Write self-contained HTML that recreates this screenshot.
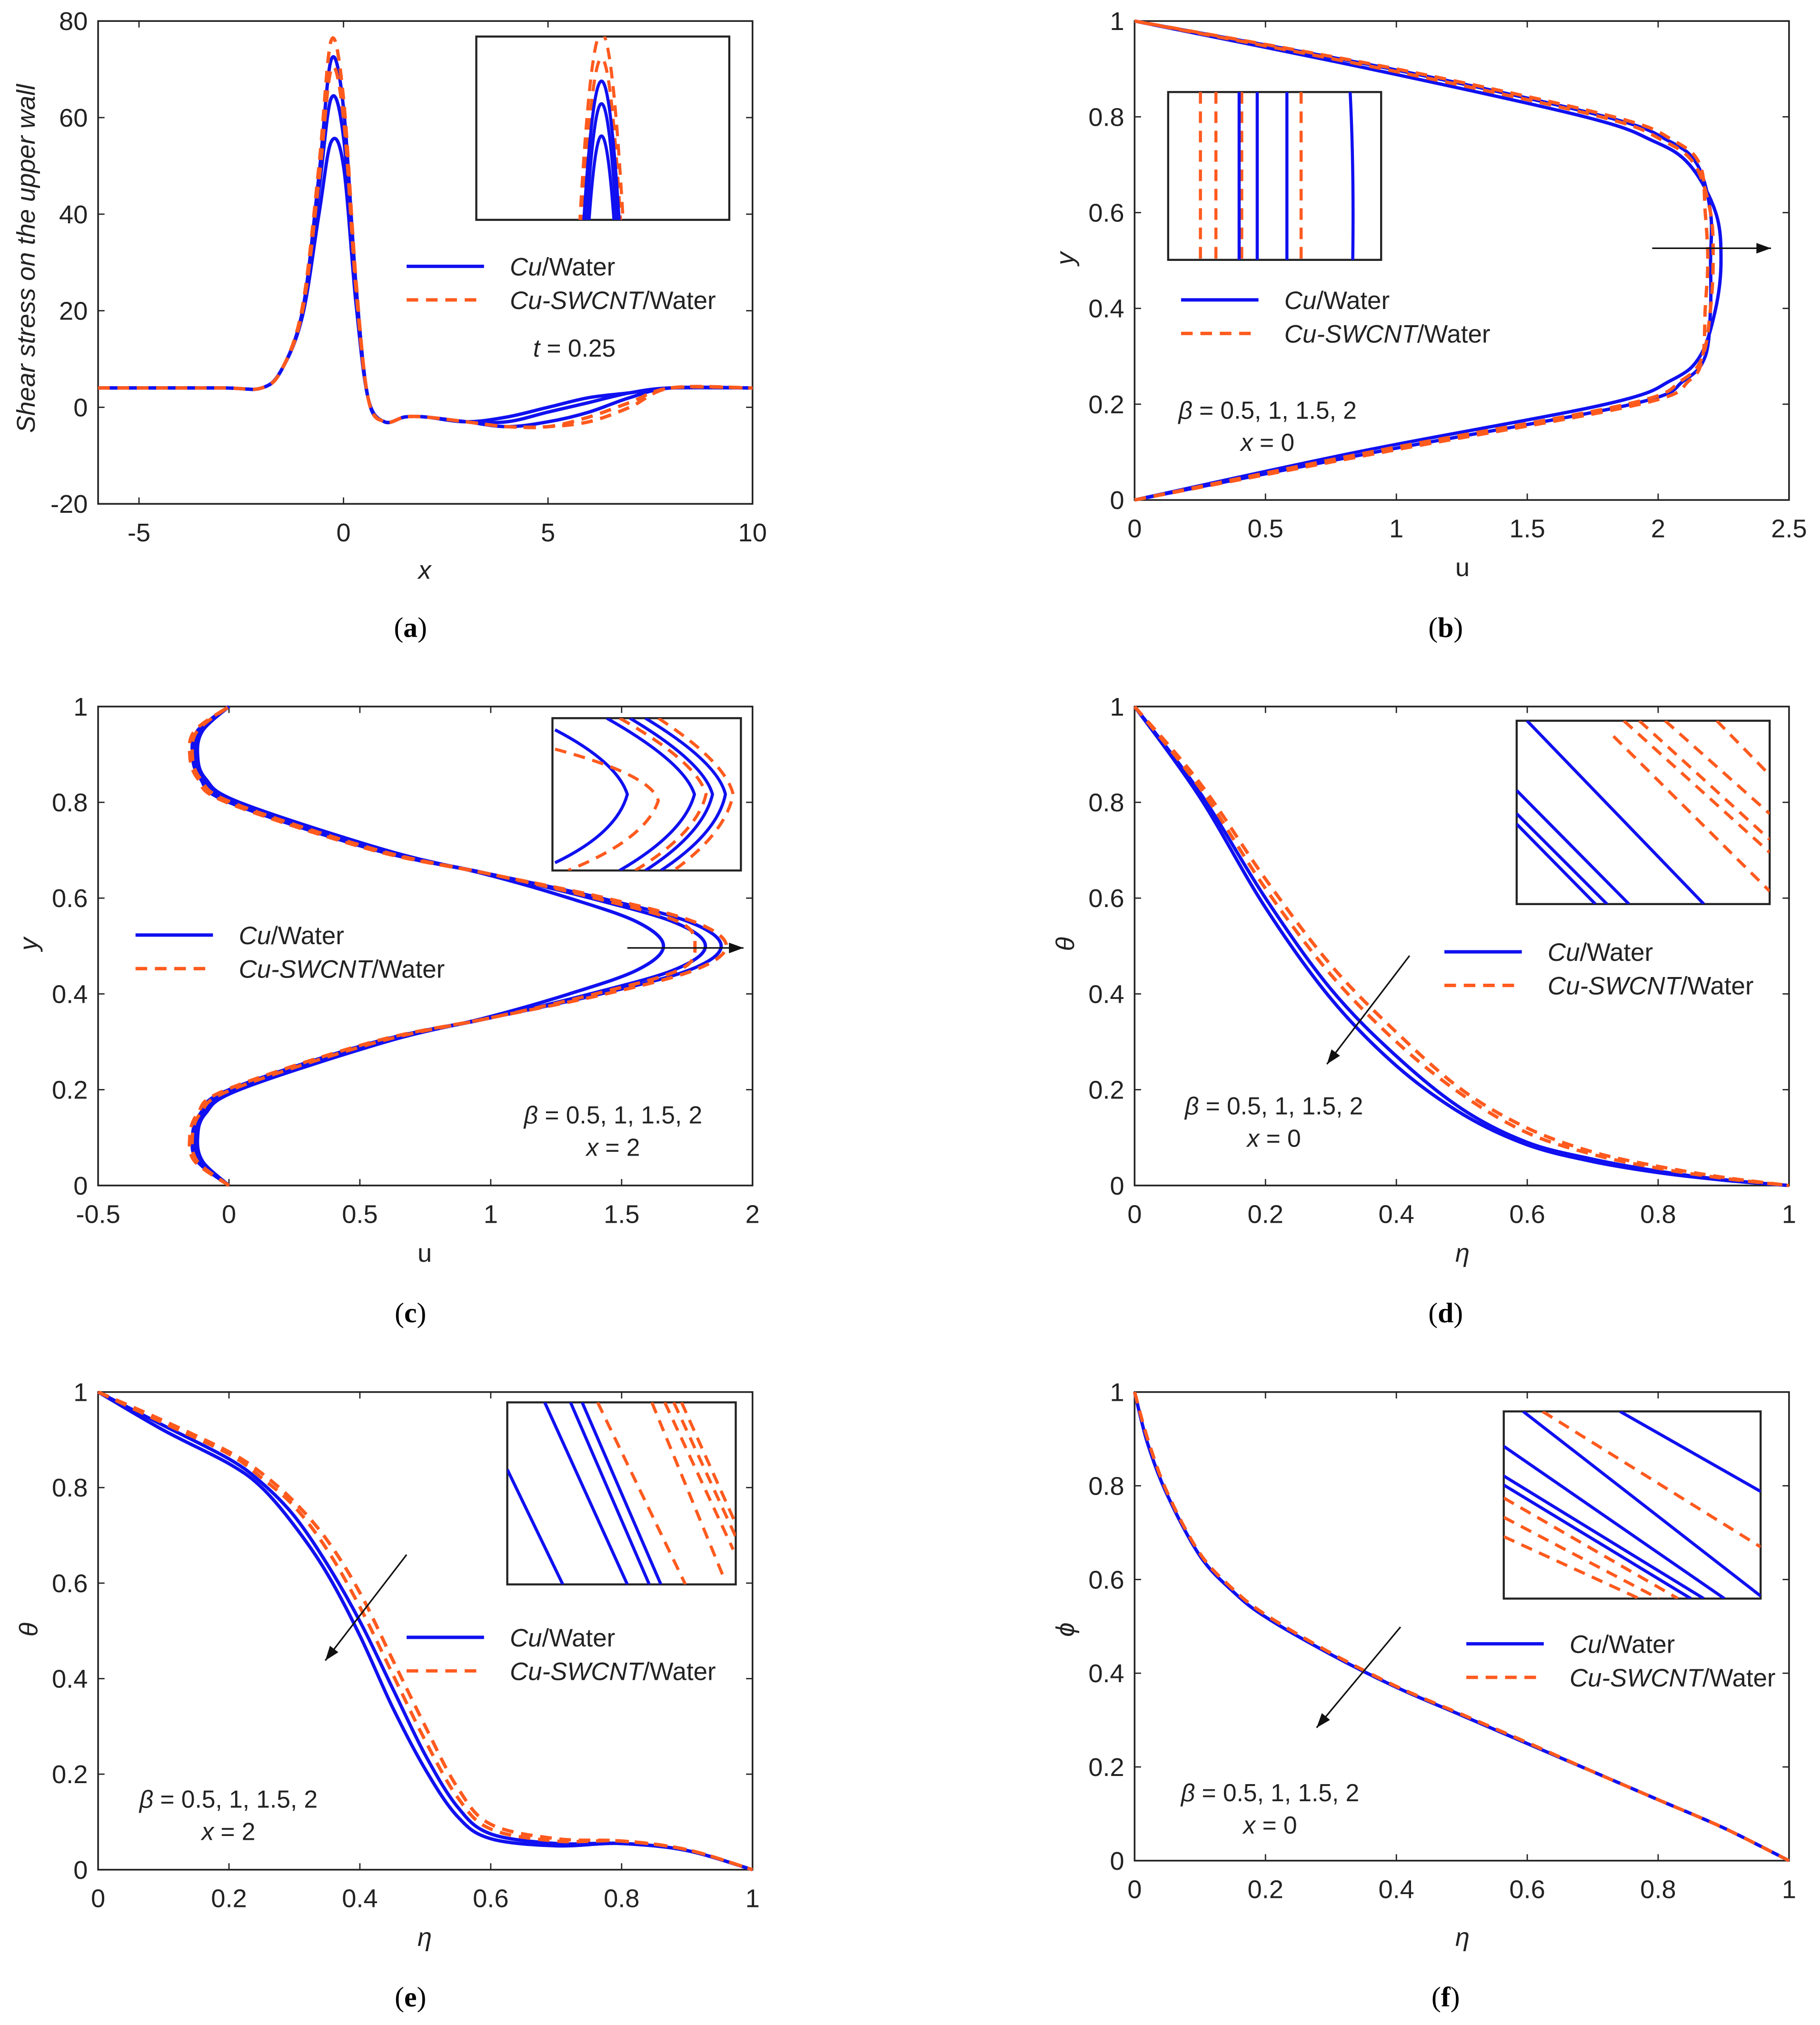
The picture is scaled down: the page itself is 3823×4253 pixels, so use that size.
<!DOCTYPE html>
<html><head><meta charset="utf-8">
<style>
html,body{margin:0;padding:0;background:#fff;}
svg{display:block;}
text{font-family:"Liberation Sans",sans-serif;fill:#222;}
.cap{font-family:"Liberation Serif",serif;font-size:22px;fill:#000;}
</style></head>
<body>
<svg id="fig" width="3823" height="4253" viewBox="0 0 1410 1568" xmlns="http://www.w3.org/2000/svg"></svg>
<script>
// ---- Panel (a): shear stress vs x ----
const aX = [-6,-3,-2,-1.5,-1,-0.6,-0.3,0,0.3,0.6,1,1.5,2,3,4,5,6,7,8,10];
const aBlue1 = [4,4,4,8,20,48,72,62,26,2,-3,-2,-2,-3,-2,0,2,3,4,4];
const aBlue2 = [4,4,4,8,20,45,64,56,24,2,-3,-2,-2,-3,-3,-1,1,3,4,4];
const aBlue3 = [4,4,4,8,19,40,55,50,22,2,-3,-2,-2,-3,-4,-3,-1,2,4,4];
const aOr1 = [4,4,4,8,21,50,76,64,27,2,-3,-2,-2,-3,-4,-4,-2,1,4,4];
const aOr2 = [4,4,4,8,20,47,70,60,25,2,-3,-2,-2,-3,-4,-4,-3,0,4,4];
// ---- Panel (b): u vs y ----
const bY = [0,0.1,0.2,0.25,0.3,0.4,0.5,0.6,0.7,0.75,0.8,0.9,1];
const bBlue1 = [0,0.85,1.8,2.05,2.16,2.22,2.24,2.22,2.12,1.98,1.72,0.9,0];
const bBlue2 = [0,0.92,1.9,2.1,2.18,2.2,2.2,2.2,2.15,2.04,1.8,0.98,0];
const bOr1 = [0,0.95,1.93,2.12,2.17,2.18,2.19,2.18,2.16,2.06,1.83,1.0,0];
const bOr2 = [0,0.9,1.88,2.09,2.17,2.2,2.21,2.2,2.14,2.02,1.78,0.95,0];
// ---- Panel (c): u vs y ----
const cY = [0,0.05,0.1,0.15,0.2,0.3,0.35,0.4,0.45,0.5,0.55,0.6,0.65,0.7,0.8,0.85,0.9,0.95,1];
const cBlue1 = [0,-0.1,-0.12,-0.09,0.04,0.6,0.98,1.3,1.56,1.66,1.56,1.3,0.98,0.6,0.04,-0.09,-0.12,-0.1,0];
const cBlue2 = [0,-0.11,-0.13,-0.1,0.02,0.58,1.0,1.38,1.7,1.82,1.7,1.38,1.0,0.58,0.02,-0.1,-0.13,-0.11,0];
const cBlue3 = [0,-0.12,-0.14,-0.11,0.0,0.56,1.0,1.42,1.76,1.88,1.76,1.42,1.0,0.56,0.0,-0.11,-0.14,-0.12,0];
const cOr1 = [0,-0.12,-0.14,-0.11,0.01,0.57,1.0,1.4,1.72,1.78,1.72,1.4,1.0,0.57,0.01,-0.11,-0.14,-0.12,0];
const cOr2 = [0,-0.13,-0.15,-0.12,-0.01,0.55,1.0,1.44,1.78,1.9,1.78,1.44,1.0,0.55,-0.01,-0.12,-0.15,-0.13,0];
// ---- Panel (d): theta vs eta ----
const dX = [0,0.1,0.2,0.3,0.4,0.5,0.6,0.7,0.8,0.9,1];
const dBlue1 = [1,0.81,0.58,0.39,0.25,0.15,0.085,0.05,0.027,0.011,0];
const dBlue2 = [1,0.82,0.6,0.41,0.27,0.16,0.09,0.055,0.03,0.012,0];
const dOr1 = [1,0.83,0.62,0.44,0.3,0.19,0.11,0.065,0.036,0.015,0];
const dOr2 = [1,0.84,0.64,0.46,0.32,0.2,0.12,0.07,0.04,0.017,0];
// ---- Panel (e): theta vs eta ----
const eX = [0,0.1,0.2,0.25,0.3,0.35,0.4,0.45,0.5,0.55,0.6,0.7,0.8,0.9,1];
const eBlue1 = [1,0.92,0.85,0.8,0.72,0.62,0.49,0.34,0.21,0.11,0.065,0.05,0.055,0.04,0];
const eBlue2 = [1,0.93,0.86,0.81,0.74,0.64,0.52,0.38,0.24,0.13,0.075,0.055,0.055,0.04,0];
const eOr1 = [1,0.935,0.87,0.82,0.76,0.67,0.55,0.41,0.27,0.15,0.085,0.06,0.06,0.042,0];
const eOr2 = [1,0.94,0.875,0.83,0.77,0.69,0.58,0.44,0.3,0.17,0.095,0.065,0.06,0.042,0];
// ---- Panel (f): phi vs eta ----
const fX = [0,0.02,0.05,0.1,0.15,0.2,0.3,0.4,0.5,0.6,0.7,0.8,0.9,1];
const fBlue1 = [1,0.89,0.78,0.65,0.575,0.52,0.44,0.37,0.31,0.25,0.19,0.13,0.07,0];
const fOr1 = [1,0.9,0.785,0.655,0.58,0.525,0.443,0.372,0.312,0.252,0.19,0.13,0.07,0];
// tick labels
const aXTicks=[-5,0,5,10], aYTicks=[-20,0,20,40,60,80];
const unitTicks=[0,0.2,0.4,0.6,0.8,1];
const bXTicks=[0,0.5,1,1.5,2,2.5], cXTicks=[-0.5,0,0.5,1,1.5,2];

const NS="http://www.w3.org/2000/svg";
const svg=document.getElementById('fig');
function mk(tag,attrs,parent){const e=document.createElementNS(NS,tag);for(const k in attrs)e.setAttribute(k,attrs[k]);(parent||svg).appendChild(e);return e;}
function txt(s,x,y,attrs,parent){const t=mk('text',Object.assign({x:x,y:y},attrs||{}),parent);t.innerHTML=s;return t;}
const BLUE='#1010f0', OR='#ff5a1e';

function panel(id,L,R,T,B,xmin,xmax,ymin,ymax,xt,yt){
  const g=mk('g',{});
  
  
  const sx=v=>L+(v-xmin)/(xmax-xmin)*(R-L);
  const sy=v=>B-(v-ymin)/(ymax-ymin)*(B-T);
  const fr=mk('rect',{x:L,y:T,width:R-L,height:B-T,fill:'#fff',stroke:'#222','stroke-width':1.3},g);
  
  
  xt.forEach(v=>{const x=sx(v);
    mk('line',{x1:x,y1:B,x2:x,y2:B-5,stroke:'#222'},g);mk('line',{x1:x,y1:T,x2:x,y2:T+5,stroke:'#222'},g);
    const t=txt(String(v),x,B+29,{'font-size':20,'text-anchor':'middle'},g);
    
    });
  yt.forEach(v=>{const y=sy(v);
    mk('line',{x1:L,y1:y,x2:L+5,y2:y,stroke:'#222'},g);mk('line',{x1:R,y1:y,x2:R-5,y2:y,stroke:'#222'},g);
    const t=txt(String(v),L-8,y+7,{'font-size':20,'text-anchor':'end'},g);
    
    });
  return {g,sx,sy};
}
function curve(P,xs,ys,color,dash,name,swap){
  const pts=[];
  for(let i=0;i<xs.length;i++){pts.push(swap?[P.sx(ys[i]),P.sy(xs[i])]:[P.sx(xs[i]),P.sy(ys[i])]);}
  let d='M'+pts[0][0].toFixed(1)+','+pts[0][1].toFixed(1);
  for(let i=0;i<pts.length-1;i++){
    const p0=pts[Math.max(0,i-1)],p1=pts[i],p2=pts[i+1],p3=pts[Math.min(pts.length-1,i+2)];
    const c1=[p1[0]+(p2[0]-p0[0])/6,p1[1]+(p2[1]-p0[1])/6];
    const c2=[p2[0]-(p3[0]-p1[0])/6,p2[1]-(p3[1]-p1[1])/6];
    d+='C'+c1[0].toFixed(1)+','+c1[1].toFixed(1)+' '+c2[0].toFixed(1)+','+c2[1].toFixed(1)+' '+p2[0].toFixed(1)+','+p2[1].toFixed(1);
  }
  const p=mk('path',{d:d,fill:'none',stroke:color,'stroke-width':2.6,'stroke-dasharray':dash?'9,6':'none','stroke-linejoin':'round'},P.g);
  
  
}
function legend(P,x,y){
  mk('line',{x1:x,y1:y,x2:x+60,y2:y,stroke:BLUE,'stroke-width':2.6},P.g);
  mk('line',{x1:x,y1:y+26,x2:x+60,y2:y+26,stroke:OR,'stroke-width':2.6,'stroke-dasharray':'9,6'},P.g);
  const t1=txt('<tspan font-style="italic">Cu</tspan>/Water',x+80,y+7,{'font-size':19.5},P.g);
  
  
  const t2=txt('<tspan font-style="italic">Cu-SWCNT</tspan>/Water',x+80,y+33,{'font-size':19.5},P.g);
  
  
}
function inset(P,x,y,w,h,lines){
  const r=mk('rect',{x:x,y:y,width:w,height:h,fill:'#fff',stroke:'#222','stroke-width':1.6},P.g);
  
  
  const cp=mk('clipPath',{id:'clip'+x+'_'+y},P.g);
  mk('rect',{x:x,y:y,width:w,height:h},cp);
  lines.forEach(l=>{mk('path',{d:l[0],fill:'none',stroke:l[1]?OR:BLUE,'stroke-width':2.4,'stroke-dasharray':l[1]?'9,6':'none','clip-path':'url(#clip'+x+'_'+y+')'},P.g);});
}
function arrow(P,x1,y1,x2,y2){
  mk('line',{x1:x1,y1:y1,x2:x2,y2:y2,stroke:'#111','stroke-width':1.2},P.g);
  const a=Math.atan2(y2-y1,x2-x1),s=12;
  const p=`${x2},${y2} ${x2-s*Math.cos(a-0.35)},${y2-s*Math.sin(a-0.35)} ${x2-s*Math.cos(a+0.35)},${y2-s*Math.sin(a+0.35)}`;
  const ar=mk('polygon',{points:p,fill:'#111'},P.g);
  
  
}
function label(P,s,x,y,rot,name,size,italic){
  const t=txt(s,x,y,{'font-size':size||20,'text-anchor':'middle','font-style':italic?'italic':'normal',transform:rot?`rotate(-90 ${x} ${y})`:''},P.g);
  
  
}
function caption(s,x,y){
  const t=txt('(<tspan font-weight="bold">'+s+'</tspan>)',x,y,{'class':'cap','text-anchor':'middle'});
  
  
}

// Panel a
let A=panel('a',76,583,16,390,-6,10,-20,80,aXTicks,aYTicks);
[aBlue1,aBlue2,aBlue3].forEach((s,i)=>curve(A,aX,s,BLUE,false,'curve-a-cu-'+i));
[aOr1,aOr2].forEach((s,i)=>curve(A,aX,s,OR,true,'curve-a-swcnt-'+i));
inset(A,369,28,196,142,[
 ['M449,175 Q466,-125 483,175',1],['M451,175 Q466,-85 481,175',1],['M452,175 Q466,-50 480,175',0],['M454,175 Q466,-15 478,175',0],['M456,175 Q466,35 476,175',0]]);
legend(A,315,206);
label(A,'<tspan font-style="italic">t</tspan> = 0.25',445,276,false,'time-annotation',19);
label(A,'x',329,448,false,'x-axis-title',20,true);
label(A,'Shear stress on the upper wall',27,200,true,'y-axis-title',20,true);
caption('a',318,493);

// Panel b
let Bp=panel('b',879,1386,16,387,0,2.5,0,1,bXTicks,unitTicks);
[bBlue1,bBlue2].forEach((s,i)=>curve(Bp,bY,s,BLUE,false,'curve-b-cu-'+i,true));
[bOr1,bOr2].forEach((s,i)=>curve(Bp,bY,s,OR,true,'curve-b-swcnt-'+i,true));
inset(Bp,905,71,165,130,[
 ['M930,71 V201',1],['M942,71 V201',1],['M962,71 V201',1],['M1008,71 V201',1],
 ['M960,71 V201',0],['M974,71 V201',0],['M997,71 V201',0],['M1046,71 Q1049,130 1048,201',0]]);
legend(Bp,915,232);
arrow(Bp,1280,192,1372,192);
label(Bp,'<tspan font-style="italic">β</tspan> = 0.5, 1, 1.5, 2',982,324,false,'beta-annotation',19);
label(Bp,'<tspan font-style="italic">x</tspan> = 0',982,349,false,'x-annotation',19);
label(Bp,'u',1133,446,false,'x-axis-title');
label(Bp,'y',832,200,true,'y-axis-title',20,true);
caption('b',1120,493);

// Panel c
let C=panel('c',76,583,547,918,-0.5,2,0,1,cXTicks,unitTicks);
[cBlue1,cBlue2,cBlue3].forEach((s,i)=>curve(C,cY,s,BLUE,false,'curve-c-cu-'+i,true));
[cOr1,cOr2].forEach((s,i)=>curve(C,cY,s,OR,true,'curve-c-swcnt-'+i,true));
inset(C,428,556,146,118,[
 ['M430,565 Q478,590 486,615 Q478,645 430,668',0],['M430,580 Q505,600 510,620 Q500,650 440,674',1],
 ['M470,556 Q530,590 538,615 Q530,645 480,674',0],['M488,556 Q545,590 552,615 Q545,645 500,674',0],
 ['M500,556 Q556,590 562,615 Q556,645 512,674',0],['M480,556 Q540,590 547,615 Q540,645 492,674',1],
 ['M510,556 Q562,590 568,615 Q562,645 522,674',1]]);
legend(C,105,724);
arrow(C,486,734,576,734);
label(C,'<tspan font-style="italic">β</tspan> = 0.5, 1, 1.5, 2',475,870,false,'beta-annotation',19);
label(C,'<tspan font-style="italic">x</tspan> = 2',475,895,false,'x-annotation',19);
label(C,'u',329,977,false,'x-axis-title');
label(C,'y',29,731,true,'y-axis-title',20,true);
caption('c',318,1024);

// Panel d
let D=panel('d',879,1386,547,918,0,1,0,1,unitTicks,unitTicks);
[dBlue1,dBlue2].forEach((s,i)=>curve(D,dX,s,BLUE,false,'curve-d-cu-'+i));
[dOr1,dOr2].forEach((s,i)=>curve(D,dX,s,OR,true,'curve-d-swcnt-'+i));
inset(D,1175,558,196,142,[
 ['M1175,612 L1262,700',0],['M1175,630 L1245,700',0],['M1175,638 L1236,700',0],['M1183,558 L1320,700',0],
 ['M1258,558 L1371,660',1],['M1270,558 L1371,650',1],['M1290,558 L1371,630',1],['M1330,558 L1371,600',1],['M1250,570 L1371,690',1]]);
legend(D,1119,737);
arrow(D,1092,740,1028,824);
label(D,'<tspan font-style="italic">β</tspan> = 0.5, 1, 1.5, 2',987,863,false,'beta-annotation',19);
label(D,'<tspan font-style="italic">x</tspan> = 0',987,888,false,'x-annotation',19);
label(D,'η',1133,977,false,'x-axis-title',20,true);
label(D,'θ',832,731,true,'y-axis-title',20,true);
caption('d',1120,1024);

// Panel e
let E=panel('e',76,583,1078,1448,0,1,0,1,unitTicks,unitTicks);
[eBlue1,eBlue2].forEach((s,i)=>curve(E,eX,s,BLUE,false,'curve-e-cu-'+i));
[eOr1,eOr2].forEach((s,i)=>curve(E,eX,s,OR,true,'curve-e-swcnt-'+i));
inset(E,393,1086,177,141,[
 ['M393,1138 L436,1227',0],['M422,1086 L486,1227',0],['M442,1086 L503,1227',0],['M451,1086 L512,1227',0],
 ['M463,1086 L531,1227',1],['M505,1086 L560,1220',1],['M515,1086 L568,1200',1],['M522,1086 L570,1190',1],['M528,1086 L570,1180',1]]);
legend(E,315,1268);
arrow(E,315,1204,252,1286);
label(E,'<tspan font-style="italic">β</tspan> = 0.5, 1, 1.5, 2',177,1400,false,'beta-annotation',19);
label(E,'<tspan font-style="italic">x</tspan> = 2',177,1425,false,'x-annotation',19);
label(E,'η',329,1507,false,'x-axis-title',20,true);
label(E,'θ',29,1262,true,'y-axis-title',20,true);
caption('e',318,1554);

// Panel f
let F=panel('f',879,1386,1078,1441,0,1,0,1,unitTicks,unitTicks);
curve(F,fX,fBlue1,BLUE,false,'curve-f-cu');
curve(F,fX,fOr1,OR,true,'curve-f-swcnt');
inset(F,1165,1093,199,145,[
 ['M1165,1120 L1336,1238',0],['M1165,1143 L1320,1238',0],['M1165,1150 L1310,1238',0],['M1255,1093 L1364,1155',0],['M1180,1093 L1364,1236',0],
 ['M1195,1093 L1364,1198',1],['M1165,1160 L1300,1238',1],['M1165,1175 L1285,1238',1],['M1165,1190 L1270,1238',1]]);
legend(F,1136,1273);
arrow(F,1085,1260,1020,1338);
label(F,'<tspan font-style="italic">β</tspan> = 0.5, 1, 1.5, 2',984,1395,false,'beta-annotation',19);
label(F,'<tspan font-style="italic">x</tspan> = 0',984,1420,false,'x-annotation',19);
label(F,'η',1133,1507,false,'x-axis-title',20,true);
label(F,'ϕ',832,1262,true,'y-axis-title',20,true);
caption('f',1120,1554);
</script>
</body></html>
